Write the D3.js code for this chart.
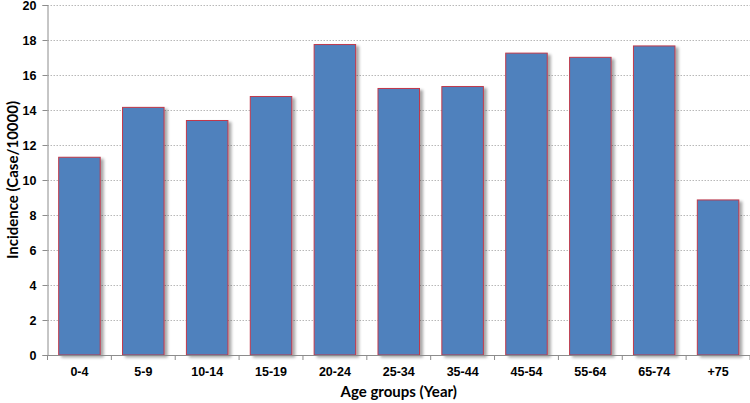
<!DOCTYPE html>
<html>
<head>
  <meta charset="utf-8">
  <script src="https://d3js.org/d3.v7.min.js"></script>
  <style type="text/css">
  body { margin: 0; background: #fff; }
  svg { display: block; font-family: Lato, "Open Sans", sans-serif; }
  .grid line { stroke: #a6a6a6; stroke-dasharray: 1.5,1.5; stroke-width: 0.8; }
  .grid path { display: none; }
  .axis path, .axis line { stroke: #8c8c8c; }
  .axis text { font-size: 12.5px; font-weight: bold; fill: #000; }
  .title { font-size: 15px; font-weight: bold; fill: #000; }
  </style>
</head>
<body>
  <script type="text/javascript">
    // age groups and incidence per 10000
    var ageGroups = ["0-4", "5-9", "10-14", "15-19", "20-24", "25-34", "35-44", "45-54", "55-64", "65-74", "+75"];
    var incidence = [11.3, 14.15, 13.4, 14.77, 17.74, 15.23, 15.34, 17.25, 17.01, 17.66, 8.86];
    var yTicks = [0, 2, 4, 6, 8, 10, 12, 14, 16, 18, 20];

    var margin = {top: 5, right: 0, bottom: 48, left: 47.5},
      width = 750 - margin.left - margin.right,
      height = 403 - margin.top - margin.bottom;

    var svg = d3.select("body")
      .append("svg")
      .attr("width", 750)
      .attr("height", 403);

    var defs = svg.append("defs");
    var shadow = defs.append("filter").attr("id", "shadow")
      .attr("x", "-10%").attr("y", "-10%").attr("width", "130%").attr("height", "130%");
    shadow.append("feGaussianBlur").attr("in", "SourceAlpha").attr("stdDeviation", 1.5);
    shadow.append("feOffset").attr("dx", 3).attr("dy", 2).attr("result", "ob");
    shadow.append("feComponentTransfer").append("feFuncA").attr("type", "linear").attr("slope", 0.35);
    var merge = shadow.append("feMerge");
    merge.append("feMergeNode");
    merge.append("feMergeNode").attr("in", "SourceGraphic");

    var g = svg.append("g")
      .attr("transform", "translate(" + margin.left + "," + margin.top + ")");

    var x = d3.scaleBand()
      .domain(ageGroups)
      .range([0, width])
      .paddingInner(0.35)
      .paddingOuter(0.175);

    var y = d3.scaleLinear()
      .domain([0, 20])
      .range([height, 0]);

    // grid lines
    g.append("g")
      .attr("class", "grid")
      .call(d3.axisLeft(y).tickValues(yTicks.slice(1)).tickSize(-width).tickFormat(""));

    // bars
    g.selectAll(".bar")
      .data(incidence)
      .enter().append("rect")
      .attr("class", "bar")
      .attr("x", function(d, i) { return x(ageGroups[i]); })
      .attr("y", function(d) { return y(d); })
      .attr("width", x.bandwidth())
      .attr("height", function(d) { return height - y(d); })
      .attr("fill", "#4f81bd")
      .attr("stroke", "#c0394b")
      .attr("stroke-width", 1)
      .attr("filter", "url(#shadow)");

    // y axis
    var yAxis = g.append("g")
      .attr("class", "axis")
      .call(d3.axisLeft(y).tickValues(yTicks).tickSize(5).tickPadding(6));

    // x axis, ticks between bands
    var step = x.step();
    var xAxis = g.append("g")
      .attr("class", "axis")
      .attr("transform", "translate(0," + height + ")")
      .call(d3.axisBottom(x).tickSize(0).tickPadding(12));
    xAxis.selectAll(".tickmark")
      .data(d3.range(ageGroups.length + 1))
      .enter().append("line")
      .attr("class", "tickmark")
      .attr("x1", function(i) { return i * step; })
      .attr("x2", function(i) { return i * step; })
      .attr("y1", 0).attr("y2", 5)
      .attr("stroke", "#8c8c8c");

    // titles
    svg.append("text")
      .attr("class", "title")
      .attr("transform", "translate(13," + (margin.top + height / 2) + ") rotate(-90)")
      .attr("text-anchor", "middle")
      .attr("dy", "0.35em")
      .text("Incidence (Case/10000)");

    svg.append("text")
      .attr("class", "title")
      .attr("x", margin.left + width / 2)
      .attr("y", 397)
      .attr("text-anchor", "middle")
      .text("Age groups (Year)");
  </script>
</body>
</html>
